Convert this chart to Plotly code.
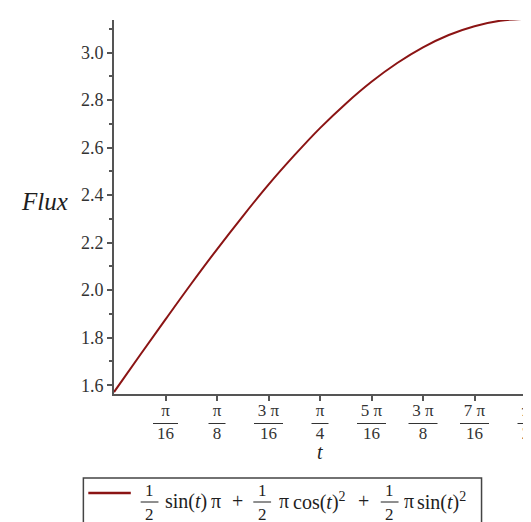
import math
import plotly.graph_objects as go

# ---- data ----
t_values = [k * math.pi / 32 for k in range(17)]
flux_values = [1.571, 1.725, 1.877, 2.027, 2.172, 2.311, 2.444, 2.567, 2.682,
               2.785, 2.877, 2.956, 3.022, 3.074, 3.111, 3.134, 3.142]
x_tick_vals = [k * math.pi / 16 for k in range(1, 9)]
x_tick_num = ["π", "π", "3 π", "π", "5 π", "3 π", "7 π", "π"]
x_tick_den = ["16", "8", "16", "4", "16", "8", "16", "2"]
y_tick_vals = [1.6, 1.8, 2.0, 2.2, 2.4, 2.6, 2.8, 3.0]
y_tick_text = ["1.6", "1.8", "2.0", "2.2", "2.4", "2.6", "2.8", "3.0"]
legend_label = "½ sin(t) π + ½ π cos(t)² + ½ π sin(t)²"

W, H = 531, 522
ML, MR, MT, MB = 106, 8, 12, 136
PW, PH = W - ML - MR, H - MT - MB

def px(x):
    return (x - ML) / PW

def py(y):
    return (MT + PH - y) / PH

SERIF = "Liberation Serif, Times New Roman, serif"
LINE_COLOR = "#8b1414"
AXIS_COLOR = "#555555"
TEXT_COLOR = "#333333"
DARK = "#1e1e1e"

fig = go.Figure()
fig.add_trace(go.Scatter(
    x=t_values, y=flux_values, mode="lines", name=legend_label,
    line=dict(color=LINE_COLOR, width=2, shape="spline"),
    showlegend=False, hoverinfo="skip",
))

annotations = []
shapes = []

# x tick labels: numerator / denominator on two lines, with a fraction bar
x_tick_text = [f"{n}<br>{d}" for n, d in zip(x_tick_num, x_tick_den)]
for v, num, den in zip(x_tick_vals, x_tick_num, x_tick_den):
    n = max(len(num.replace(" ", "")), len(den))
    w = 9 + 8 * n + (4 if " " in num else 0)
    shapes.append(dict(type="line", xref="x", xsizemode="pixel", xanchor=v,
                       x0=-w / 2, x1=w / 2, yref="paper", y0=py(415.5), y1=py(415.5),
                       line=dict(color=TEXT_COLOR, width=1)))

# axis titles
annotations.append(dict(x=px(36), y=py(193), xref="paper", yref="paper", text="<i>Flux</i>",
                        showarrow=False, xanchor="center", yanchor="middle",
                        font=dict(family=SERIF, size=25, color=DARK)))
annotations.append(dict(x=math.pi / 4, xref="x", y=py(444), yref="paper", text="<i>t</i>",
                        showarrow=False, xanchor="center", yanchor="middle",
                        font=dict(family=SERIF, size=20, color=DARK)))

# legend box
shapes.append(dict(type="rect", xref="paper", yref="paper",
                   x0=px(75), x1=px(478), y0=py(470), y1=py(526),
                   line=dict(color="#444444", width=1.5), fillcolor="white"))
shapes.append(dict(type="line", xref="paper", yref="paper",
                   x0=px(80), x1=px(123), y0=py(485), y1=py(485),
                   line=dict(color=LINE_COLOR, width=2.5)))

LEG_FONT = dict(family=SERIF, size=20, color=DARK)
FRAC_FONT = dict(family=SERIF, size=17, color=DARK)
legend_fracs = [142, 256, 385]
legend_words = [(156, "left", "sin(<i>t</i>)"), (209, "center", "π"), (231, "center", "+"),
                (278, "center", "π"), (285, "left", "cos(<i>t</i>)<sup>2</sup>"), (359, "center", "+"),
                (405, "center", "π"), (411, "left", "sin(<i>t</i>)<sup>2</sup>")]
for fx in legend_fracs:
    annotations.append(dict(x=px(fx), y=py(482), xref="paper", yref="paper", text="1",
                            showarrow=False, xanchor="center", yanchor="middle", font=FRAC_FONT))
    annotations.append(dict(x=px(fx), y=py(506), xref="paper", yref="paper", text="2",
                            showarrow=False, xanchor="center", yanchor="middle", font=FRAC_FONT))
    shapes.append(dict(type="line", xref="paper", yref="paper",
                       x0=px(fx - 9), x1=px(fx + 9), y0=py(494), y1=py(494),
                       line=dict(color=DARK, width=1)))
for tx, anchor, txt in legend_words:
    annotations.append(dict(x=px(tx), y=py(493), xref="paper", yref="paper", text=txt,
                            showarrow=False, xanchor=anchor, yanchor="middle", font=LEG_FONT))

fig.update_layout(
    width=W, height=H,
    margin=dict(l=ML, r=MR, t=MT, b=MB),
    paper_bgcolor="white", plot_bgcolor="white",
    showlegend=False,
    xaxis=dict(range=[0, math.pi / 2], tickvals=x_tick_vals, ticktext=x_tick_text,
               ticks="outside", ticklen=5, tickcolor=AXIS_COLOR, tickwidth=1.5,
               ticklabelstandoff=-5,
               showline=True, linecolor=AXIS_COLOR, linewidth=2,
               showgrid=False, zeroline=False,
               tickfont=dict(family=SERIF, size=17, color=TEXT_COLOR)),
    yaxis=dict(range=[1.563, 3.137], tickvals=y_tick_vals, ticktext=y_tick_text,
               ticks="outside", ticklen=5, tickcolor=AXIS_COLOR, tickwidth=1.5,
               minor=dict(ticks="outside", ticklen=3, dtick=0.1, tick0=1.5,
                          tickcolor=AXIS_COLOR, tickwidth=1.5),
               showline=True, linecolor=AXIS_COLOR, linewidth=2,
               showgrid=False, zeroline=False,
               tickfont=dict(family=SERIF, size=18, color=TEXT_COLOR)),
    annotations=annotations,
    shapes=shapes,
)

fig.write_html("out.html")
